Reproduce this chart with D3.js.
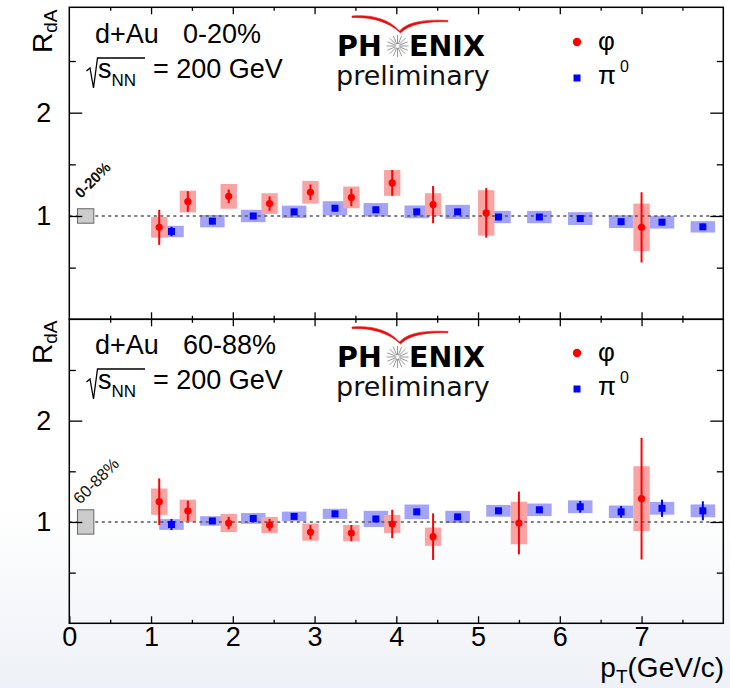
<!DOCTYPE html>
<html><head><meta charset="utf-8">
<script src="https://cdn.jsdelivr.net/npm/d3@7"></script>
<style>body{margin:0;background:#fff}svg{display:block}</style>
</head><body><svg id="c" width="730" height="688"></svg>
<script>
// ---------------- DATA ----------------
const xTickValues = [0,1,2,3,4,5,6,7];
const yLabelTicks = [1,2];
const yMinorTicks = [0.5,1.5,2.5];

// top panel: d+Au 0-20%
const phiXTop    = [1.1,1.45,1.95,2.45,2.95,3.45,3.95,4.45,5.1,7.0];
const phiYTop    = [0.89,1.14,1.19,1.12,1.23,1.18,1.32,1.11,1.03,0.89];
const phiStatTop = [0.17,0.10,0.065,0.07,0.075,0.085,0.125,0.18,0.24,0.34];
const phiSysTop  = [0.10,0.105,0.12,0.10,0.11,0.105,0.125,0.11,0.22,0.23];

const pi0XTop    = [1.25,1.75,2.25,2.75,3.25,3.75,4.25,4.75,5.25,5.75,6.25,6.75,7.25,7.75];
const pi0YTop    = [0.85,0.95,1.00,1.04,1.075,1.06,1.04,1.04,0.99,0.99,0.975,0.945,0.94,0.895];
const pi0StatTop = [0.045,0.03,0.03,0.03,0.03,0.03,0.03,0.03,0.03,0.03,0.03,0.03,0.03,0.03];
const pi0SysTop  = [0.055,0.06,0.06,0.06,0.068,0.065,0.062,0.068,0.06,0.06,0.062,0.062,0.062,0.055];

// bottom panel: d+Au 60-88%
const phiXBot    = [1.1,1.45,1.95,2.45,2.95,3.45,3.95,4.45,5.5,7.0];
const phiYBot    = [1.20,1.11,0.99,0.97,0.90,0.89,0.98,0.855,0.99,1.23];
const phiStatBot = [0.23,0.10,0.06,0.06,0.07,0.08,0.14,0.23,0.31,0.60];
const phiSysBot  = [0.13,0.11,0.09,0.08,0.085,0.08,0.09,0.09,0.21,0.32];

const pi0XBot    = [1.25,1.75,2.25,2.75,3.25,3.75,4.25,4.75,5.25,5.75,6.25,6.75,7.25,7.75];
const pi0YBot    = [0.975,1.01,1.035,1.055,1.08,1.03,1.10,1.05,1.11,1.12,1.15,1.10,1.135,1.11];
const pi0StatBot = [0.055,0.03,0.03,0.03,0.03,0.03,0.03,0.03,0.03,0.03,0.058,0.058,0.085,0.094];
const pi0SysBot  = [0.053,0.047,0.053,0.047,0.05,0.08,0.072,0.06,0.058,0.062,0.063,0.062,0.063,0.063];

const centLabels = ["0-20%","60-88%"];
const normUnc = [0.07,0.12];

// ---------------- DRAWING ----------------
const svg = d3.select("#c");
const defs = svg.append("defs");
const grad = defs.append("linearGradient").attr("id","bg").attr("x1",0).attr("y1",0).attr("x2",0).attr("y2",1);
grad.append("stop").attr("offset","0").attr("stop-color","#ffffff");
grad.append("stop").attr("offset","0.74").attr("stop-color","#ffffff");
grad.append("stop").attr("offset","1").attr("stop-color","#eef1f7");
svg.append("rect").attr("width",730).attr("height",688).attr("fill","url(#bg)");

const FONT = "'Liberation Sans', Arial, Helvetica, sans-serif";
const x = d3.scaleLinear().domain([0,8]).range([69.3,723.3]);

const panels = [
  {yDom:[0,3.02], yRange:[319.3,7.3], phiX:phiXTop, phiY:phiYTop, phiStat:phiStatTop, phiSys:phiSysTop,
   pi0X:pi0XTop, pi0Y:pi0YTop, pi0Stat:pi0StatTop, pi0Sys:pi0SysTop, label:centLabels[0], norm:normUnc[0],
   off:0, rotFont:"bold 15px", rotPos:[81,199]},
  {yDom:[0,3], yRange:[623.3,319.3], phiX:phiXBot, phiY:phiYBot, phiStat:phiStatBot, phiSys:phiSysBot,
   pi0X:pi0XBot, pi0Y:pi0YBot, pi0Stat:pi0StatBot, pi0Sys:pi0SysBot, label:centLabels[1], norm:normUnc[1],
   off:311, rotFont:"16.5px", rotPos:[80,505]}
];

panels.forEach((p,i)=>{
  const y = d3.scaleLinear().domain(p.yDom).range(p.yRange);
  const g = svg.append("g");
  const x0 = x.range()[0], x1 = x.range()[1];
  const yT = p.yRange[1], yB = p.yRange[0];

  // systematic boxes: pi0 first, then phi
  g.selectAll(".pi0sys").data(p.pi0X).join("rect")
    .attr("x",(d)=>x(d-0.15)).attr("width",(d)=>x(d+0.15)-x(d-0.15))
    .attr("y",(d,j)=>y(p.pi0Y[j]+p.pi0Sys[j])).attr("height",(d,j)=>y(p.pi0Y[j]-p.pi0Sys[j])-y(p.pi0Y[j]+p.pi0Sys[j]))
    .attr("fill","#a3a3f7");
  g.selectAll(".phisys").data(p.phiX).join("rect")
    .attr("x",(d)=>x(d-0.1)).attr("width",(d)=>x(d+0.1)-x(d-0.1))
    .attr("y",(d,j)=>y(p.phiY[j]+p.phiSys[j])).attr("height",(d,j)=>y(p.phiY[j]-p.phiSys[j])-y(p.phiY[j]+p.phiSys[j]))
    .attr("fill","#f9a3a3");

  // dashed line at 1
  g.append("line").attr("x1",x0).attr("x2",x1).attr("y1",y(1)).attr("y2",y(1))
    .attr("stroke","#555").attr("stroke-width",1.6).attr("stroke-dasharray","3,3.5");

  // normalization box
  g.append("rect").attr("x",x(0.1)).attr("width",x(0.3)-x(0.1))
    .attr("y",y(1+p.norm)).attr("height",y(1-p.norm)-y(1+p.norm))
    .attr("fill","#cccccc").attr("stroke","#666").attr("stroke-width",1);

  // rotated centrality label
  g.append("text").attr("transform",`translate(${p.rotPos[0]},${p.rotPos[1]}) rotate(-45)`)
    .style("font",p.rotFont+" "+FONT).attr("fill","#111").text(p.label);

  // error bars and markers
  g.selectAll(".pi0err").data(p.pi0X).join("line")
    .attr("x1",d=>x(d)).attr("x2",d=>x(d))
    .attr("y1",(d,j)=>y(p.pi0Y[j]+p.pi0Stat[j])).attr("y2",(d,j)=>y(p.pi0Y[j]-p.pi0Stat[j]))
    .attr("stroke","#0000ff").attr("stroke-width",2);
  g.selectAll(".pi0pt").data(p.pi0X).join("rect")
    .attr("x",d=>x(d)-3.5).attr("y",(d,j)=>y(p.pi0Y[j])-3.5).attr("width",7).attr("height",7)
    .attr("fill","#0000ff");
  g.selectAll(".phierr").data(p.phiX).join("line")
    .attr("x1",d=>x(d)).attr("x2",d=>x(d))
    .attr("y1",(d,j)=>y(p.phiY[j]+p.phiStat[j])).attr("y2",(d,j)=>y(p.phiY[j]-p.phiStat[j]))
    .attr("stroke","#ff0000").attr("stroke-width",2);
  g.selectAll(".phipt").data(p.phiX).join("circle")
    .attr("cx",d=>x(d)).attr("cy",(d,j)=>y(p.phiY[j])).attr("r",3.6)
    .attr("fill","#ff0000");

  // axes ticks
  const clean = sel => { sel.select(".domain").remove(); sel.selectAll("text").attr("font-family",FONT).attr("font-size",27).attr("fill","#000"); sel.selectAll("line").attr("stroke","#000").attr("stroke-width",1.3); };
  g.append("g").attr("transform",`translate(${x0},0)`)
    .call(d3.axisLeft(y).tickValues(yLabelTicks).tickSize(-13).tickPadding(18).tickFormat(d3.format("d"))).call(clean);
  g.append("g").attr("transform",`translate(${x0},0)`)
    .call(d3.axisLeft(y).tickValues(yMinorTicks).tickSize(-6.5).tickFormat("")).call(clean);
  g.append("g").attr("transform",`translate(${x1},0)`)
    .call(d3.axisRight(y).tickValues(yLabelTicks).tickSize(-13).tickFormat("")).call(clean);
  g.append("g").attr("transform",`translate(${x1},0)`)
    .call(d3.axisRight(y).tickValues(yMinorTicks).tickSize(-6.5).tickFormat("")).call(clean);
  const xMajor = d3.range(1,8), xMinor = d3.range(0.5,8,1);
  g.append("g").attr("transform",`translate(0,${yB})`)
    .call(d3.axisBottom(x).tickValues(i===1?xTickValues:xMajor).tickSize(-7).tickPadding(4).tickFormat(i===1?d3.format("d"):"")).call(clean);
  g.append("g").attr("transform",`translate(0,${yB})`)
    .call(d3.axisBottom(x).tickValues(xMinor).tickSize(-3.5).tickFormat("")).call(clean);
  g.append("g").attr("transform",`translate(0,${yT})`)
    .call(d3.axisTop(x).tickValues(xMajor).tickSize(-7).tickFormat("")).call(clean);
  g.append("g").attr("transform",`translate(0,${yT})`)
    .call(d3.axisTop(x).tickValues(xMinor).tickSize(-3.5).tickFormat("")).call(clean);

  // frame
  g.append("rect").attr("x",x0).attr("y",yT).attr("width",x1-x0).attr("height",yB-yT)
    .attr("fill","none").attr("stroke","#000").attr("stroke-width",1.5);

  const o = p.off;
  // y title R_dA
  const yt = g.append("text").attr("transform",`translate(52,${53+o}) rotate(-90)`)
    .attr("font-family",FONT).attr("font-size",28).attr("fill","#000");
  yt.append("tspan").text("R");
  yt.append("tspan").attr("font-size",19).attr("dy",5).text("dA");

  // system text
  g.append("text").attr("x",95).attr("y",43+o).attr("font-family",FONT).attr("font-size",27).text("d+Au");
  g.append("text").attr("x",183).attr("y",43+o).attr("font-family",FONT).attr("font-size",27).text(p.label);
  g.append("path").attr("d",`M86.5,${71+o} L90,${68+o} L93.5,${88+o} L97.5,${58+o} L145,${58+o}`)
    .attr("fill","none").attr("stroke","#000").attr("stroke-width",1.3);
  const st = g.append("text").attr("x",98).attr("y",78+o).attr("font-family",FONT).attr("font-size",27);
  st.append("tspan").text("s");
  st.append("tspan").attr("font-size",17).attr("dy",8).text("NN");
  st.append("tspan").attr("dy",-8).attr("x",153).text("= 200 GeV");

  // PHENIX logo: red swoosh (tapered wing shape)
  g.append("path").attr("d",
    `M352,${16+o} C370,${14.5+o} 388,${18+o} 399.5,${31+o} C407,${22+o} 425,${19+o} 448,${20.5+o}` +
    ` L448,${21.8+o} C426,${21+o} 409,${24+o} 400.5,${33+o} C388,${21+o} 370,${17+o} 352,${17.5+o} Z`)
    .attr("fill","#e21010").attr("stroke","#e21010").attr("stroke-width",0.6);
  g.append("text").attr("x",337).attr("y",56+o).attr("font-family","'DejaVu Sans', sans-serif")
    .attr("font-weight","bold").attr("font-size",28.5).attr("fill","#000").text("PH");
  g.append("text").attr("x",409).attr("y",56+o).attr("font-family","'DejaVu Sans', sans-serif")
    .attr("font-weight","bold").attr("font-size",28.5).attr("fill","#000").text("ENIX");
  const cx = 397.5, cy = 46+o;
  d3.range(16).forEach(k=>{
    const a = k*Math.PI/8;
    g.append("line").attr("x1",cx+2*Math.cos(a)).attr("y1",cy+2*Math.sin(a))
      .attr("x2",cx+11*Math.cos(a)).attr("y2",cy+11*Math.sin(a))
      .attr("stroke","#999").attr("stroke-width",1);
  });
  g.append("text").attr("x",336).attr("y",85+o).attr("font-family","'DejaVu Sans', sans-serif")
    .attr("font-size",27).attr("fill","#111").text("preliminary");

  // legend
  g.append("circle").attr("cx",577).attr("cy",42+o).attr("r",4.2).attr("fill","#ff0000");
  g.append("text").attr("x",598).attr("y",50+o).attr("font-family",FONT).attr("font-size",26).text("φ");
  g.append("rect").attr("x",573.5).attr("y",74.5+o).attr("width",7).attr("height",7).attr("fill","#0000ff");
  const pt = g.append("text").attr("x",598).attr("y",84+o).attr("font-family",FONT).attr("font-size",26);
  pt.append("tspan").text("π");
  pt.append("tspan").attr("font-size",16).attr("dy",-12).attr("dx",4).text("0");
});

// x title
const xt = svg.append("text").attr("x",724).attr("y",677).attr("text-anchor","end")
  .attr("font-family",FONT).attr("font-size",28);
xt.append("tspan").text("p");
xt.append("tspan").attr("font-size",19).attr("dy",6).text("T");
xt.append("tspan").attr("dy",-6).text("(GeV/c)");
</script></body></html>
